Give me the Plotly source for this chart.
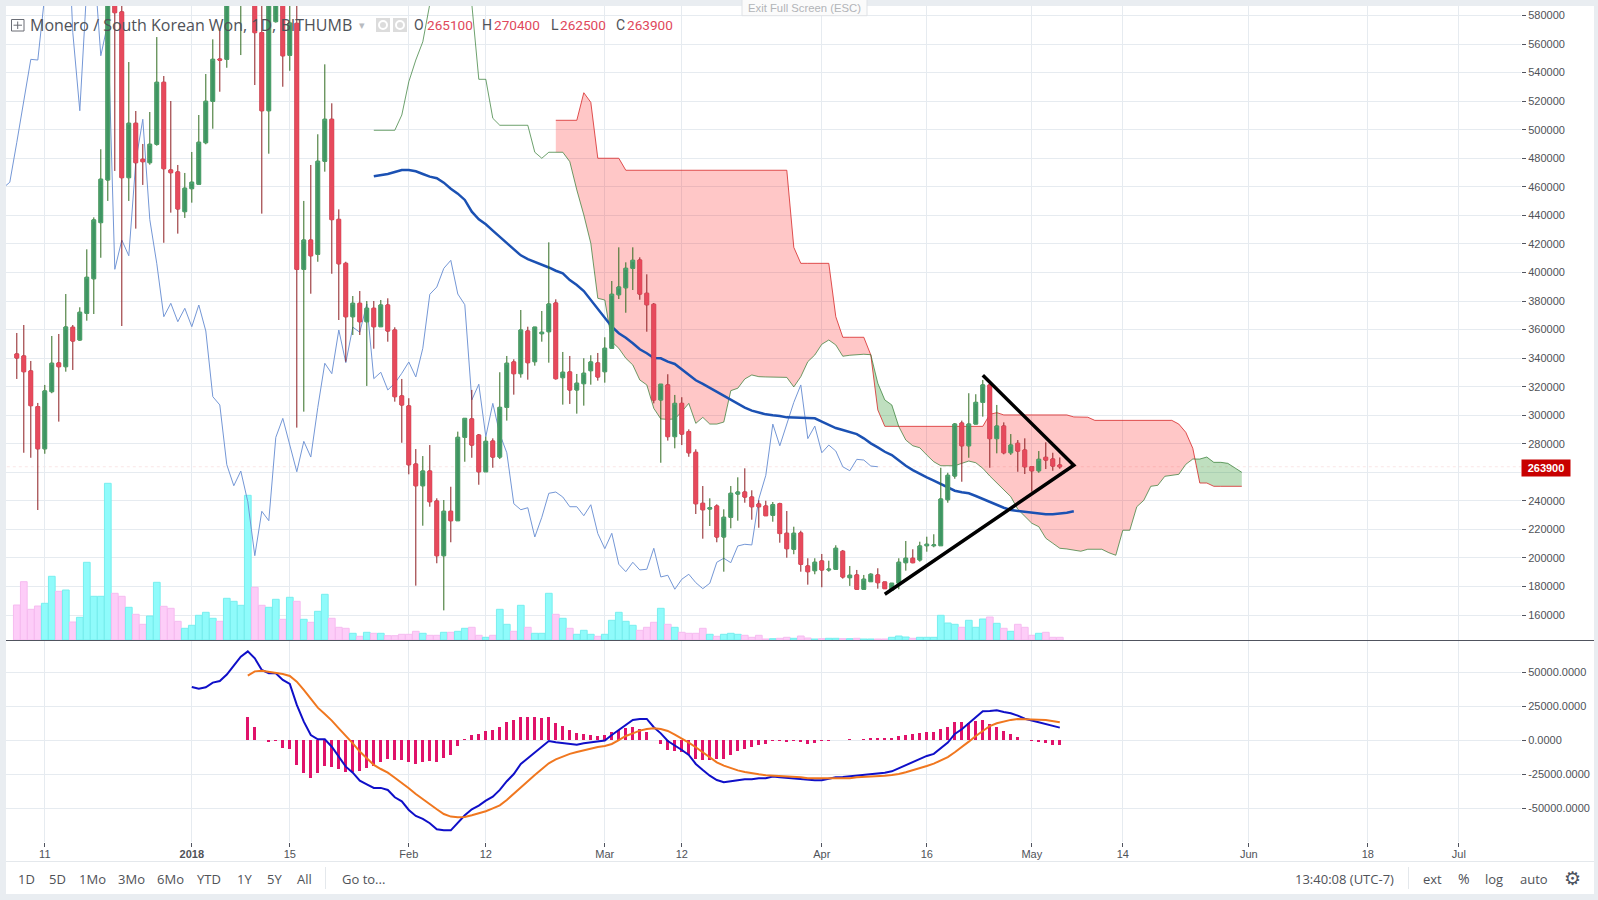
import numpy as np
import pandas as pd
import plotly.graph_objects as go

W, H = 1598, 900

# ---------- data ----------
first_day = "2017-12-07"
open_ = [342900,341500,331000,306000,276500,316500,336600,334000,361600,352700,
 371400,395600,434900,464800,620000,582500,466400,504500,479300,476900,
 489800,533200,471800,470400,442600,458700,461800,490900,519900,549500,
 549300,600000,600000,650000,640000,568000,513300,575700,610000,552100,
 574500,402200,422700,412700,477900,507300,437200,406400,369000,378400,
 365500,374900,362000,377200,359700,313500,306500,265800,250600,260900,
 239900,201600,232700,226100,284500,297400,286100,260400,281900,270700,
 305500,337300,329100,359000,337500,357100,358500,378600,326300,330300,
 317700,322100,331200,336600,330500,346900,384400,389300,402900,408700,
 385400,377700,310700,321200,285000,308300,288500,274000,238300,234300,
 236400,214700,228500,244800,246200,242700,237800,236400,229900,238000,
 217300,206100,217500,194400,191100,197900,191600,192100,204700,186200,
 188100,178100,183400,188100,183200,177600,182300,196700,199800,198600,
 208600,208600,208600,240800,257400,294500,278600,293800,309000,321200,
 283600,292400,273700,280300,275600,263900,261100,270500,269300,265100]
high = [357600,363200,338000,308600,321200,355500,356900,384900,363200,375600,
 416200,438600,486300,610000,640000,620000,547400,513100,490000,512400,
 564900,537600,520100,475300,469700,484400,510300,539000,563300,569800,
 615000,660000,680000,700000,660000,600000,620000,640000,625000,600000,
 590000,450100,475300,496800,545800,518500,444200,407500,383500,387000,
 380000,380000,380700,381900,361600,325400,311900,276300,271400,279100,
 241800,240600,249900,288500,297800,317700,286800,285000,283800,330100,
 341500,339200,373700,362000,359000,373000,421100,381200,344300,341500,
 328900,339900,342000,343600,354600,394000,417600,407100,417600,410600,
 398700,378600,321700,328700,314200,312600,290100,276100,250400,241800,
 237600,234100,250400,256500,262800,247400,240400,240100,239200,238700,
 232900,221900,219100,199800,199800,202800,198100,208900,205600,194400,
 191600,188100,189300,192800,183200,182300,199800,211900,206100,211400,
 214900,216600,263200,259700,294500,296200,315400,314700,324700,321200,
 307200,295000,286800,282600,283800,263900,274900,281000,273700,270400]
low = [325400,273700,270200,233600,273000,315400,295500,330500,331700,352200,
 366200,370900,410300,450100,471100,362500,450100,430700,461300,475500,
 488800,420800,441900,427200,438200,448900,461800,489800,500700,526600,
 543400,595000,552300,600000,531300,441200,483200,575000,530100,541300,
 291300,302500,385100,407500,470600,399100,366700,337500,356200,356200,
 320500,346600,362000,351500,309500,280700,258600,180600,222600,235900,
 196300,163300,211000,226100,267400,270200,251300,260400,263200,269300,
 296200,314400,326300,324900,334700,351500,336800,324900,307400,307900,
 301100,306700,321400,324200,322800,346900,381400,371800,387700,380900,
 358500,308300,266700,282200,276800,279100,270900,230800,213500,222400,
 211000,190400,220800,226100,238700,226800,221200,229600,225400,210700,
 200200,202600,190400,181300,188600,179500,190400,191600,185500,180400,
 178100,178100,183400,178500,178500,177600,178100,191100,196300,197400,
 204400,207500,208600,238700,255500,253400,270200,293800,299000,263200,
 273300,272600,272200,260400,258800,246400,259700,262300,261100,262500]
close = [340100,330500,306700,276500,317000,336400,334000,361800,352000,372100,
 396600,436800,465300,600000,582000,466400,504500,476900,477600,489800,
 533200,472700,469900,444500,459000,463200,491200,519900,549300,548800,
 600000,640000,650000,680000,568000,513300,600000,620000,551800,574700,
 402200,422700,411700,477900,507300,437000,406100,369000,378400,365500,
 374900,362000,377200,359000,313000,307200,265300,250600,260900,239400,
 201600,232700,226100,284500,297800,279100,260400,281700,270700,305500,
 336400,329100,359700,336800,361700,358100,377900,325600,330100,317700,
 322400,329400,337300,326800,346900,384700,389800,402900,408500,384900,
 377400,310700,321700,285000,308300,286800,273700,238000,233800,235200,
 214700,228500,245300,246200,242700,235900,235900,229600,237300,217100,
 206500,217300,195600,190400,197000,191600,192100,206800,186700,187900,
 178100,185100,188600,182700,178500,182300,197000,199800,196700,208400,
 209600,209100,241300,257900,293800,278600,293800,309000,321200,283600,
 292400,273700,279100,274900,263900,261100,269100,268600,264400,263900]
volume = [350,583,307,340,367,637,487,500,180,227,777,437,437,1567,467,437,327,257,157,240,
 577,337,317,187,117,147,247,277,217,187,417,387,347,1447,527,347,327,407,207,427,
 387,207,177,287,457,217,127,117,67,37,77,67,67,43,43,57,57,87,67,47,
 47,77,77,87,117,127,47,27,47,307,157,87,347,127,67,67,467,257,217,117,
 57,97,57,37,57,197,277,187,147,97,127,177,317,157,127,77,67,67,117,57,
 37,57,67,57,47,27,47,10,13,17,27,17,40,20,10,13,17,17,13,13,
 17,10,10,10,10,27,40,30,17,27,27,27,247,170,157,127,197,127,210,230,
 167,117,87,157,127,47,67,77,27,27]

ma_start_k = 51
ma_line = [467400,468100,469000,470400,471800,471800,470900,469000,467100,466000,
 462900,458700,455200,450800,442600,437200,433700,429300,424800,420400,
 416400,412000,409400,407500,405700,403500,401200,399400,394700,391200,
 387000,380700,374900,368600,362000,357400,354300,350400,346200,343400,
 340100,339900,337500,335900,332200,328200,324500,321900,319100,316300,
 313500,310700,308300,305300,303200,301800,300600,299900,299500,298500,
 298300,298300,298100,297800,295500,293100,291000,289600,288200,286800,
 283800,280300,277500,274400,272100,268100,264600,261600,259300,256500,
 254100,251800,249500,247100,246000,245300,243400,241300,239200,237100,
 235200,233600,232900,232200,231700,231000,230600,230600,231000,231700,232700]

span_a_start_k = 51
span_a = [499600,499600,499600,499600,510300,533600,548800,561600,588000,600000,
 620000,640000,640000,620000,588100,535300,535300,508000,503100,503100,
 503100,503100,503100,484200,480000,484200,484200,484200,477600,457800,
 440300,420400,381900,380700,351500,346900,339900,335200,324700,321200,
 304800,297400,297100,297400,302500,308300,294300,298500,293800,293800,
 295200,317200,318900,325400,328200,327000,326800,326800,326800,326500,
 319800,327000,337500,342200,349700,352700,349200,341300,342000,342400,
 342700,342400,322400,310700,307200,292000,282600,278600,277200,272100,
 267400,264600,264600,264600,266300,267900,266700,262800,257400,252700,
 248100,242900,234100,228900,224300,221900,213800,210300,206800,206300,
 205600,204700,206100,206300,206100,203700,201900,219400,219400,235900,
 240400,250200,250900,257200,257900,258600,265600,269300,269300,270700,
 267000,267000,266300,263000,260000]

span_b_start_k = 77
span_b = [506600,506600,506600,506600,525900,519200,480000,480000,480000,480000,
 471600,471600,471600,471600,471600,471600,471600,471600,471600,471600,
 471600,471600,471600,471600,471600,471600,471600,471600,471600,471600,
 471600,471600,471600,471600,417600,406400,406400,406400,406400,406400,
 369000,354600,354600,354600,354600,342200,303700,292200,292200,292200,
 292200,292200,292200,292200,292200,292200,292200,292200,292200,292200,
 292200,292200,300600,301800,300200,300200,300200,300200,300200,300200,
 300200,300200,300200,300200,298800,298800,298600,296400,296400,296400,
 296400,296400,296400,296400,296400,296400,296400,296400,296400,293800,
 288000,276800,252500,252500,250200,250200,250200,250200,250200]

trend_dates = ["2018-04-24", "2018-05-07", "2018-04-10"]
trend_prices = [328000, 264900, 174600]

macd_start_k = 25
macd_line = [39200,38000,39000,42400,43600,48300,54900,61500,65400,60300,
 51700,49300,49300,44400,41400,26000,13700,3900,700,700,
 -4700,-12000,-19400,-23800,-29700,-32400,-35000,-35000,-36500,-41900,
 -44900,-51200,-55600,-57800,-61000,-65400,-66200,-66200,-60500,-55100,
 -50700,-48000,-44400,-41400,-36500,-30100,-24800,-17400,-13200,-9100,
 -4700,-500,-1500,-2200,-2700,-3200,-2200,-1500,-1200,-200,
 3900,7600,11800,15000,15700,15700,9600,5100,-500,-3700,
 -7100,-10800,-17400,-21800,-26000,-29200,-30900,-30100,-29400,-28700,
 -28700,-27900,-27900,-26700,-27200,-27700,-27900,-28700,-29400,-29400,
 -29400,-28400,-27200,-27000,-26500,-26200,-25700,-25200,-24500,-23800,
 -22800,-20600,-18400,-16200,-14000,-11500,-10000,-6100,-1700,4700,
 8100,12500,16900,21300,21600,22100,20800,19900,18100,15900,
 14500,13200,12300,10800,9300]
signal_start_k = 33
signal_line = [47500,50700,51200,50500,50000,48800,47300,43100,37000,30100,
 24000,19400,14500,8800,3400,-2200,-8300,-13200,-18100,-21100,
 -23800,-27500,-31100,-35300,-39500,-43400,-47300,-50700,-54200,-56100,
 -56600,-56400,-55100,-53700,-52200,-50000,-47800,-43900,-39500,-34800,
 -30100,-25500,-21100,-16900,-14000,-12000,-10000,-8600,-7400,-5900,
 -4900,-4200,-2700,200,3200,5100,7100,8300,8800,8300,
 6900,4200,1500,-1700,-5100,-8800,-12500,-16200,-18600,-20600,
 -22100,-23300,-24300,-25000,-25700,-26000,-26200,-26200,-26700,-27200,
 -27900,-27900,-28200,-28400,-28200,-27900,-27900,-27200,-27000,-26700,
 -26200,-26000,-25500,-24800,-23500,-22100,-20600,-18900,-17200,-15000,
 -12300,-8800,-5100,-1000,3200,7100,10500,12500,14000,15000,
 15700,15400,15000,15200,15000,14200,13200]
macd_hist = [16900,9800,500,-1200,-500,-5400,-6400,-18100,-23800,-27500,
 -23800,-18900,-19600,-21100,-23300,-23300,-22500,-20300,-18900,-15900,
 -13700,-14500,-14500,-15900,-17400,-15900,-15200,-15900,-13000,-10800,
 -4200,700,3900,4700,6900,7600,9800,13500,15000,17200,
 17200,17200,16400,17200,12700,10500,7600,5400,4700,3900,
 3200,3900,6100,7600,9100,9800,8300,6100,200,-2700,
 -7100,-7800,-8500,-10800,-13700,-14500,-14500,-13700,-13700,-10800,
 -7800,-6400,-4900,-3400,-2700,-500,-500,-1200,-700,-1200,
 -2700,-1700,-700,-500,200,300,1000,500,1000,1700,
 1700,1700,1700,3200,3900,4700,5400,6100,6100,8300,
 9800,13500,13500,12700,14200,15000,12000,9800,6900,4700,
 2500,300,-500,-1200,-2000,-3400,-3400]

price_ticks = list(range(160000, 600000, 20000))
macd_ticks = [50000, 25000, 0, -25000, -50000]
macd_tick_labels = ["50000.0000", "25000.0000", "0.0000", "-25000.0000", "-50000.0000"]
time_ticks = ["2017-12-11","2018-01-01","2018-01-15","2018-02-01","2018-02-12","2018-03-01",
              "2018-03-12","2018-04-01","2018-04-16","2018-05-01","2018-05-14","2018-06-01",
              "2018-06-18","2018-07-01"]
time_labels = ["11","<b>2018</b>","15","Feb","12","Mar","12","Apr","16","May","14","Jun","18","Jul"]
range_buttons = [("1D",26.4),("5D",57),("1Mo",92),("3Mo",131),("6Mo",170),("YTD",209),
                 ("1Y",244),("5Y",274),("All",304.6)]

# ---------- derived positions ----------
open_, high, low, close = map(np.array, (open_, high, low, close))
d0 = pd.Timestamp(first_day)
def day(k):
    return d0 + pd.to_timedelta(k, unit="D")
dates = [day(k) for k in range(len(close))]
def series_x(start, n):
    return [day(start + i) for i in range(n)]

GREEN_BODY, RED_BODY = "#3f9562", "#e64a5c"
GREEN_WICK, RED_WICK = "#2f6b20", "#8c1c20"
GRID = "#e6ebf0"
AXIS = "#50535e"
TEXT = "#4f5258"
UI = "Open Sans"
TICKF = dict(family="Liberation Sans", size=11, color=TEXT)

fig = go.Figure()

# volume (base of the price pane)
up = close >= open_
fig.add_trace(go.Bar(x=dates, y=volume, xaxis="x", yaxis="y", width=0.96 * 86400000,
    marker=dict(color=["#8ffbfb" if u else "#fdcdf8" for u in up],
                line=dict(color=["#78eeee" if u else "#f6bcf0" for u in up], width=1)),
    hoverinfo="skip", showlegend=False))

# Ichimoku cloud split at every crossing of the two spans
kk = np.arange(span_b_start_k, span_b_start_k + len(span_b), dtype=float)
aa = np.array(span_a[span_b_start_k - span_a_start_k:], dtype=float)
bb = np.array(span_b, dtype=float)
segments, cur = [], [(kk[0], aa[0], bb[0])]
for i in range(1, len(kk)):
    d1, d2 = aa[i - 1] - bb[i - 1], aa[i] - bb[i]
    if d1 * d2 < 0:
        t = d1 / (d1 - d2)
        c = (kk[i - 1] + t, aa[i - 1] + t * (aa[i] - aa[i - 1]), bb[i - 1] + t * (bb[i] - bb[i - 1]))
        cur.append(c)
        segments.append(cur)
        cur = [c]
    cur.append((kk[i], aa[i], bb[i]))
segments.append(cur)
for seg in segments:
    ks, sa, sb = zip(*seg)
    xs = [day(k) for k in ks]
    green = sum(sa) > sum(sb)
    fig.add_trace(go.Scatter(x=xs + xs[::-1], y=list(sa) + list(sb)[::-1], mode="lines",
        fill="toself", fillcolor="rgba(0,128,0,0.25)" if green else "rgba(255,0,0,0.22)",
        line=dict(width=0), xaxis="x", yaxis="y2", hoverinfo="skip", showlegend=False, zorder=0))

def line(x, y, color, width, z=1):
    fig.add_trace(go.Scatter(x=x, y=y, mode="lines", line=dict(color=color, width=width),
        xaxis="x", yaxis="y2", hoverinfo="skip", showlegend=False, zorder=z))

line(series_x(span_b_start_k, len(span_b)), span_b, "rgba(215,40,40,0.8)", 1)
line(series_x(span_a_start_k, len(span_a)), span_a, "rgba(30,110,30,0.65)", 1)
# lagging span: the closes drawn 26 days earlier
line(series_x(-2, len(close) - 24), close[24:], "#7497d6", 1)
line(series_x(ma_start_k, len(ma_line)), ma_line, "#1b51b3", 2.5)

# candles: wicks, then bodies on top
fig.add_trace(go.Candlestick(x=dates, open=open_, high=high, low=low, close=close,
    increasing=dict(line=dict(color=GREEN_WICK, width=1), fillcolor=GREEN_BODY),
    decreasing=dict(line=dict(color=RED_WICK, width=1), fillcolor=RED_BODY),
    whiskerwidth=0, xaxis="x", yaxis="y2", hoverinfo="skip", showlegend=False, zorder=2))
fig.add_trace(go.Candlestick(x=dates, open=open_, high=np.maximum(open_, close),
    low=np.minimum(open_, close), close=close,
    increasing=dict(line=dict(color="#4fa572", width=1), fillcolor=GREEN_BODY),
    decreasing=dict(line=dict(color=RED_BODY, width=1), fillcolor=RED_BODY),
    whiskerwidth=0, xaxis="x", yaxis="y2", hoverinfo="skip", showlegend=False, zorder=3))

# hand-drawn triangle
fig.add_trace(go.Scatter(x=trend_dates, y=trend_prices, mode="lines",
    line=dict(color="#000000", width=3.5), xaxis="x", yaxis="y2",
    hoverinfo="skip", showlegend=False, zorder=4))

# MACD pane
fig.add_trace(go.Bar(x=series_x(signal_start_k, len(macd_hist)), y=macd_hist, width=0.43 * 86400000,
    marker=dict(color="#e0126a", line=dict(width=0)), xaxis="x2", yaxis="y3",
    hoverinfo="skip", showlegend=False))
fig.add_trace(go.Scatter(x=series_x(macd_start_k, len(macd_line)), y=macd_line, mode="lines",
    line=dict(color="#0f0fc8", width=2), xaxis="x2", yaxis="y3", hoverinfo="skip", showlegend=False))
fig.add_trace(go.Scatter(x=series_x(signal_start_k, len(signal_line)), y=signal_line, mode="lines",
    line=dict(color="#f0771f", width=2), xaxis="x2", yaxis="y3", hoverinfo="skip", showlegend=False))

# ---------- layout helpers ----------
px = lambda v: v / W
py = lambda v: 1 - v / H
ann, shapes = [], []
def txt(x, y, s, size=13, color=TEXT, anchor="center", family=UI, **kw):
    ann.append(dict(x=px(x), y=py(y), xref="paper", yref="paper", text=s, showarrow=False,
        xanchor=anchor, yanchor="middle", font=dict(family=family, size=size, color=color), **kw))
def rect(x0, y0, x1, y1, fill, ln=None, layer="above"):
    shapes.append(dict(type="rect", xref="paper", yref="paper", x0=px(x0), x1=px(x1), y0=py(y0), y1=py(y1),
        fillcolor=fill, line=dict(color=ln or fill, width=1 if ln else 0), layer=layer))
def hv(x0, y0, x1, y1, color, width=1, layer="above"):
    shapes.append(dict(type="line", xref="paper", yref="paper", x0=px(x0), x1=px(x1), y0=py(y0), y1=py(y1),
        line=dict(color=color, width=width), layer=layer))

rect(6, 6, 1594, 894, "#ffffff", layer="below")
hv(6, 640.5, 1594, 640.5, AXIS)
hv(6, 861.5, 1594, 861.5, "#e4e8ec")
hv(325.5, 867, 325.5, 889, "#e4e8ec")
hv(1408.5, 867, 1408.5, 889, "#e4e8ec")
# last-price dotted line
shapes.append(dict(type="line", xref="x", yref="y2", x0=day(-40), x1=day(240), y0=close[-1], y1=close[-1],
    line=dict(color="rgba(200,0,0,0.10)", width=1, dash="dot"), layer="below"))

# header
rect(11.5, 19.5, 24, 31, "rgba(255,255,255,0)", "#6a6d75")
hv(17.7, 21.5, 17.7, 29, "#6a6d75")
hv(13.5, 25.2, 22, 25.2, "#6a6d75")
txt(28, 25, "Monero / South Korean Won, 1D, BITHUMB", size=16, anchor="left")
txt(362, 25, "▾", size=11, color="#b8bbc0", family="DejaVu Sans")
for x0 in (376, 393):
    rect(x0, 18, x0 + 14, 32, "#dcdcdc")
    shapes.append(dict(type="circle", xref="paper", yref="paper", x0=px(x0 + 3), x1=px(x0 + 11), y0=py(21), y1=py(29),
        fillcolor="#dcdcdc", line=dict(color="#ffffff", width=2)))
RED_TXT = "#e0485c"
for lab, lx, val, vx in (("O", 412, "265100", 424.5), ("H", 480, "270400", 492),
                         ("L", 548.5, "262500", 557.5), ("C", 613.5, "263900", 624.5)):
    txt(lx, 25.5, lab, size=14, anchor="left", family="Roboto")
    txt(vx, 25.5, val, size=13.6, color=RED_TXT, anchor="left", family="Roboto")

# "Exit Full Screen" tooltip
rect(742, -2, 867, 15.7, "#fbfbfb", "#dfe2e6")
txt(804.5, 8, "Exit Full Screen (ESC)", size=11.3, color="#b2b4b8", family="Liberation Sans")

# last price tag
ann.append(dict(x=px(1521), y=py(468), xref="paper", yref="paper", xanchor="left", yanchor="middle",
    text="<b>263900</b>", showarrow=False, width=48, height=16, bgcolor="#c80000", borderpad=0,
    font=dict(family="Liberation Sans", size=11, color="#ffffff")))

# bottom toolbar
for lab, x in range_buttons:
    txt(x, 878.5, lab, size=13)
txt(363, 878.5, "Go to...", size=13)
txt(1344, 878.5, "13:40:08 (UTC-7)", size=13)
txt(1432, 878.5, "ext", size=13)
txt(1463.7, 878, "%", size=14)
txt(1494, 878.5, "log", size=13)
txt(1534, 878.5, "auto", size=13)
txt(1572, 878, "⚙", size=19, color="#4c525e", family="DejaVu Sans")

x_left = pd.Timestamp("2018-01-01") + pd.to_timedelta((6 - 191.8) / 7, unit="D")
x_right = pd.Timestamp("2018-01-01") + pd.to_timedelta((1521 - 191.8) / 7, unit="D")
x_range = [x_left, x_right]
x_dom = [px(6), px(1521)]
P_TOP, P_BOT = 590860 - 700.5 * 6, 590860 - 700.5 * 640
M_TOP, M_BOT = (740.3 - 641) * 735.3, (740.3 - 842) * 735.3

fig.update_layout(
    width=W, height=H, autosize=False, margin=dict(l=0, r=0, t=0, b=0, pad=0),
    paper_bgcolor="#e9edf1", plot_bgcolor="rgba(0,0,0,0)", showlegend=False,
    boxmode="overlay", boxgap=0.25, bargap=0, barmode="overlay", hovermode=False, dragmode=False,
    xaxis=dict(domain=x_dom, anchor="y", type="date", range=x_range, tickmode="array", tickvals=time_ticks,
        showticklabels=False, ticks="", showgrid=True, gridcolor=GRID, gridwidth=1, zeroline=False,
        showline=False, rangeslider=dict(visible=False)),
    yaxis=dict(domain=[py(640), py(6)], anchor="x", range=[0, 6340], showgrid=False, showticklabels=False,
        ticks="", zeroline=False, showline=False),
    yaxis2=dict(domain=[py(640), py(6)], anchor="x", overlaying="y", side="right", range=[P_BOT, P_TOP],
        tickmode="array", tickvals=price_ticks, ticktext=[str(v) for v in price_ticks], tickfont=TICKF,
        ticks="outside", ticklen=4, tickcolor=AXIS, showgrid=True, gridcolor=GRID, gridwidth=1, zeroline=False,
        showline=True, linecolor=AXIS, linewidth=1),
    xaxis2=dict(domain=x_dom, anchor="y3", type="date", range=x_range, matches="x", tickmode="array",
        tickvals=time_ticks, ticktext=time_labels, tickfont=TICKF, ticks="outside", ticklen=4, tickcolor=AXIS,
        ticklabelstandoff=-2,
        showgrid=True, gridcolor=GRID, gridwidth=1, zeroline=False, showline=True, linecolor=AXIS, linewidth=1),
    yaxis3=dict(domain=[py(842), py(641)], anchor="x2", side="right", range=[M_BOT, M_TOP],
        tickmode="array", tickvals=macd_ticks, ticktext=macd_tick_labels, tickfont=TICKF,
        ticks="outside", ticklen=4, tickcolor=AXIS, showgrid=True, gridcolor=GRID, gridwidth=1, zeroline=False,
        showline=True, linecolor=AXIS, linewidth=1),
    annotations=ann, shapes=shapes,
)

fig.write_html("out.html", config=dict(displayModeBar=False, staticPlot=True),
               post_script="document.body.style.margin='0';")
